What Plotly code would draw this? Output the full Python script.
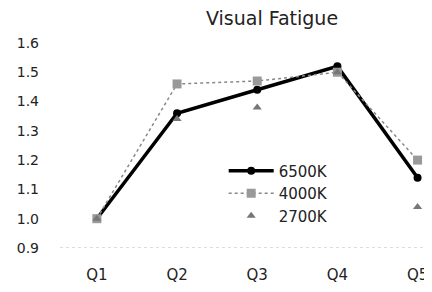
import plotly.graph_objects as go

categories = ["Q1", "Q2", "Q3", "Q4", "Q5"]
k6500 = [1.00, 1.36, 1.44, 1.52, 1.14]
k4000 = [1.00, 1.46, 1.47, 1.50, 1.20]
k2700 = [1.00, 1.34, 1.38, 1.50, 1.04]
yticks = [0.9, 1.0, 1.1, 1.2, 1.3, 1.4, 1.5, 1.6]

fig = go.Figure()
fig.add_trace(go.Scatter(x=categories, y=k6500, name="6500K", mode="lines+markers",
                         line=dict(color="black", width=3.5), cliponaxis=False,
                         marker=dict(symbol="circle", size=8, color="black")))
fig.add_trace(go.Scatter(x=categories, y=k4000, name="4000K", mode="lines+markers",
                         line=dict(color="#888888", width=1.5, dash="dot"), cliponaxis=False,
                         marker=dict(symbol="square", size=9, color="#999999")))
fig.add_trace(go.Scatter(x=categories, y=k2700, name="2700K", mode="markers", cliponaxis=False,
                         marker=dict(symbol="triangle-up", size=8, color="#777777")))

fig.update_layout(
    width=424, height=284,
    margin=dict(l=52, r=0, t=32, b=44),
    paper_bgcolor="white", plot_bgcolor="white",
    font=dict(family="DejaVu Sans, Liberation Sans, sans-serif", size=14, color="#222222"),
    title=dict(text="Visual Fatigue", x=0.57, xref="paper", xanchor="center",
               y=0.965, yanchor="middle", font=dict(size=19, color="#222222")),
    showlegend=True,
    legend=dict(x=0.44, y=0.45, xanchor="left", yanchor="top",
                bgcolor="rgba(0,0,0,0)", font=dict(size=15), itemwidth=45,
                tracegroupgap=2),
    xaxis=dict(type="category", range=[-0.46, 4.18], showgrid=False, zeroline=False,
               showline=False, ticks="", tickfont=dict(size=15), ticklabelstandoff=16,
               automargin=False),
    yaxis=dict(range=[0.9, 1.61], tickvals=yticks, ticktext=[f"{v:.1f}" for v in yticks],
               showgrid=False, zeroline=False, showline=False, ticks="",
               ticklabelstandoff=20, tickfont=dict(size=14), automargin=False),
)
fig.add_hline(y=0.9, line=dict(color="#bbbbbb", width=1, dash="dot"))
fig.write_html("out.html")
